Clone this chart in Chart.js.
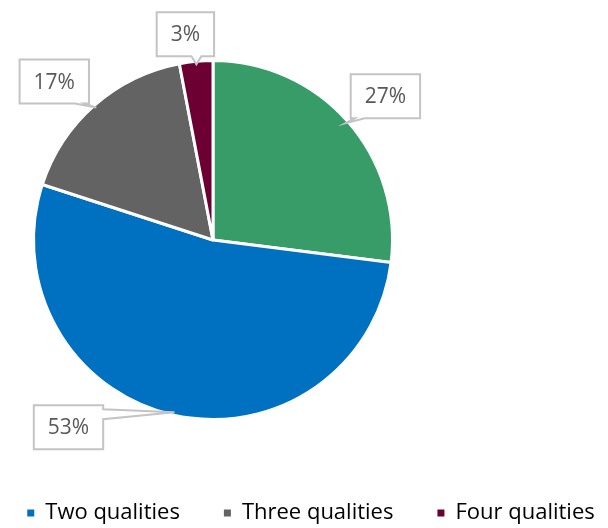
<!DOCTYPE html>
<html>
<head>
<meta charset="utf-8">
<script src="https://cdn.jsdelivr.net/npm/chart.js@4/dist/chart.umd.min.js"></script>
<style>
  html, body { margin: 0; padding: 0; background: #fff; }
  #wrap { width: 608px; height: 528px; }
</style>
</head>
<body>
<div id="wrap"><canvas id="pie"></canvas></div>
<script>
// data
const categories = ['One quality', 'Two qualities', 'Three qualities', 'Four qualities'];
const shares = [27, 53, 17, 3];
const sliceColors = ['#389c68', '#0070c0', '#636363', '#6c0033'];
// where each callout box sits, relative to the slice edge (px)
const calloutShift = [[40, -27], [-106, 15], [-42, -26], [-11, -30]];

Chart.defaults.font.family = "'Open Sans', sans-serif";

// draws the excel style callout boxes
const callouts = {
    id: 'callouts',
    afterDatasetsDraw(chart) {
        const ctx = chart.ctx;
        const meta = chart.getDatasetMeta(0);
        ctx.save();
        ctx.font = "21px 'Open Sans'";
        meta.data.forEach((arc, i) => {
            const p = arc.getProps(['x', 'y', 'startAngle', 'endAngle', 'outerRadius'], true);
            const mid = (p.startAngle + p.endAngle) / 2;
            const R = p.outerRadius - 3;
            const tx = p.x + Math.cos(mid) * R;
            const ty = p.y + Math.sin(mid) * R;
            const cx = tx + calloutShift[i][0];
            const cy = ty + calloutShift[i][1];
            const txt = shares[i] + '%';
            const w = ctx.measureText(txt).width + 28;
            const h = 44;
            const l = cx - w / 2, r = cx + w / 2, t = cy - h / 2, b = cy + h / 2;
            const clamp = (v, a, z) => Math.max(a, Math.min(z, v));

            ctx.beginPath();
            ctx.moveTo(l, t);
            ctx.lineTo(r, t);
            if (ty <= b && ty >= t && tx > r) { // wedge on right side
                const by = clamp(ty, t + 9, b - 9);
                ctx.lineTo(r, by - 5);
                ctx.lineTo(tx, ty);
                ctx.lineTo(r, by + 5);
                ctx.lineTo(r, b);
                ctx.lineTo(l, b);
            } else { // wedge on bottom
                const bx = clamp(tx, l + 9, r - 9);
                ctx.lineTo(r, b);
                ctx.lineTo(bx + 5, b);
                ctx.lineTo(tx, ty);
                ctx.lineTo(bx - 5, b);
                ctx.lineTo(l, b);
            }
            ctx.closePath();
            ctx.fillStyle = '#ffffff';
            ctx.fill();
            ctx.lineWidth = 2;
            ctx.strokeStyle = '#c4c4c4';
            ctx.stroke();

            ctx.fillStyle = '#595959';
            ctx.textAlign = 'center';
            ctx.textBaseline = 'middle';
            ctx.fillText(txt, cx, cy + 1);
        });
        ctx.restore();
    }
};

new Chart(document.getElementById('pie'), {
    type: 'pie',
    data: {
        labels: categories,
        datasets: [{
            data: shares,
            backgroundColor: sliceColors,
            borderColor: '#ffffff',
            borderWidth: 3
        }]
    },
    options: {
        responsive: true,
        maintainAspectRatio: false,
        animation: false,
        layout: { padding: { left: -40, right: -54, top: 22, bottom: -6 } },
        plugins: {
            tooltip: { enabled: false },
            // blank titles used as spacers to push the pie to the left
            subtitle: {
                display: true, text: '', position: 'left', fullSize: false,
                font: { size: 10, lineHeight: 1 }, padding: { top: 31, bottom: 31 }
            },
            title: {
                display: true, text: '', position: 'right', fullSize: false,
                font: { size: 10, lineHeight: 1 }, padding: { top: 129, bottom: 129 }
            },
            legend: {
                position: 'bottom',
                labels: {
                    usePointStyle: true,
                    pointStyle: 'rect',
                    pointStyleWidth: 7,
                    boxHeight: 7,
                    padding: 44,
                    color: '#595959',
                    font: { size: 22 },
                    generateLabels: (chart) => categories.map((c, i) => ({
                        text: c,
                        fillStyle: sliceColors[i],
                        strokeStyle: sliceColors[i],
                        lineWidth: 0,
                        pointStyle: 'rect',
                        hidden: false,
                        index: i
                    })),
                    filter: (item) => item.index > 0
                }
            }
        }
    },
    plugins: [callouts]
});
</script>
</body>
</html>
